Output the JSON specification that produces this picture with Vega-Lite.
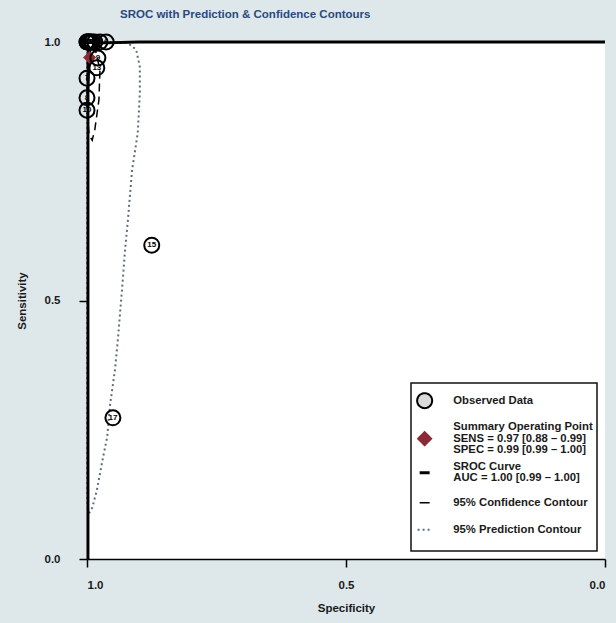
{
  "$schema": "https://vega.github.io/schema/vega-lite/v6.json",
  "autosize": {"type": "none"},
  "width": 518,
  "height": 517,
  "padding": {"left": 87, "top": 42, "right": 11, "bottom": 64},
  "background": "#dee8eb",
  "view": {"fill": "white", "stroke": null},
  "title": {
    "text": "SROC with Prediction & Confidence Contours",
    "anchor": "start",
    "frame": "group",
    "dx": 33,
    "offset": 10,
    "font": "Liberation Sans",
    "fontSize": 11.5,
    "fontWeight": "bold",
    "color": "#2a4a7c"
  },
  "config": {
    "axis": {
      "grid": false,
      "domainColor": "#000000",
      "domainWidth": 1.5,
      "tickColor": "#000000",
      "tickWidth": 1.5,
      "tickSize": 8,
      "labelFont": "Liberation Sans",
      "labelFontSize": 11.5,
      "labelFontWeight": "bold",
      "labelColor": "#1a1a1a",
      "titleFont": "Liberation Sans",
      "titleFontSize": 11.5,
      "titleFontWeight": "bold",
      "titleColor": "#1a1a1a"
    },
    "legend": {
      "labelFont": "Liberation Sans",
      "labelFontSize": 11.3,
      "labelFontWeight": "bold",
      "labelColor": "#1a1a1a",
      "labelLimit": 400
    }
  },
  "datasets": {
    "obs": [
      {"study": "1", "spec": 1.0, "sens": 1.0, "series": "Observed Data"},
      {"study": "2", "spec": 0.995, "sens": 1.0, "series": "Observed Data"},
      {"study": "3", "spec": 0.99, "sens": 1.0, "series": "Observed Data"},
      {"study": "4", "spec": 0.985, "sens": 1.0, "series": "Observed Data"},
      {"study": "5", "spec": 0.975, "sens": 1.0, "series": "Observed Data"},
      {"study": "6", "spec": 0.963, "sens": 1.0, "series": "Observed Data"},
      {"study": "7", "spec": 1.0, "sens": 0.93, "series": "Observed Data"},
      {"study": "8", "spec": 1.0, "sens": 0.892, "series": "Observed Data"},
      {"study": "9", "spec": 0.979, "sens": 0.969, "series": "Observed Data"},
      {"study": "10", "spec": 1.0, "sens": 0.868, "series": "Observed Data"},
      {"study": "11", "spec": 0.997, "sens": 1.0, "series": "Observed Data"},
      {"study": "12", "spec": 1.0, "sens": 1.0, "series": "Observed Data"},
      {"study": "13", "spec": 0.981, "sens": 0.95, "series": "Observed Data"},
      {"study": "14", "spec": 0.992, "sens": 1.0, "series": "Observed Data"},
      {"study": "15", "spec": 0.875, "sens": 0.607, "series": "Observed Data"},
      {"study": "16", "spec": 0.998, "sens": 1.0, "series": "Observed Data"},
      {"study": "17", "spec": 0.95, "sens": 0.273, "series": "Observed Data"}
    ],
    "summary": [
      {"spec": 0.995, "sens": 0.97, "series": "Summary Operating Point"}
    ],
    "sroc": [
      {"i": 1, "spec": 0.998, "sens": 0.0, "series": "SROC Curve"},
      {"i": 2, "spec": 0.998, "sens": 0.9, "series": "SROC Curve"},
      {"i": 3, "spec": 0.996, "sens": 0.98, "series": "SROC Curve"},
      {"i": 4, "spec": 0.985, "sens": 0.998, "series": "SROC Curve"},
      {"i": 5, "spec": 0.9, "sens": 1.0, "series": "SROC Curve"},
      {"i": 6, "spec": 0.0, "sens": 1.0, "series": "SROC Curve"}
    ],
    "ci": [
      {"i": 1, "spec": 0.994, "sens": 0.988, "series": "95% Confidence Contour"},
      {"i": 2, "spec": 0.983, "sens": 0.981, "series": "95% Confidence Contour"},
      {"i": 3, "spec": 0.975, "sens": 0.946, "series": "95% Confidence Contour"},
      {"i": 4, "spec": 0.977, "sens": 0.888, "series": "95% Confidence Contour"},
      {"i": 5, "spec": 0.985, "sens": 0.83, "series": "95% Confidence Contour"},
      {"i": 6, "spec": 0.99, "sens": 0.81, "series": "95% Confidence Contour"},
      {"i": 7, "spec": 0.996, "sens": 0.82, "series": "95% Confidence Contour"},
      {"i": 8, "spec": 1.0, "sens": 0.868, "series": "95% Confidence Contour"},
      {"i": 9, "spec": 1.0, "sens": 0.927, "series": "95% Confidence Contour"},
      {"i": 10, "spec": 0.999, "sens": 0.975, "series": "95% Confidence Contour"},
      {"i": 11, "spec": 0.994, "sens": 0.988, "series": "95% Confidence Contour"}
    ],
    "pi": [
      {"i": 1, "spec": 0.985, "sens": 1.0, "series": "95% Prediction Contour"},
      {"i": 2, "spec": 0.946, "sens": 1.0, "series": "95% Prediction Contour"},
      {"i": 3, "spec": 0.921, "sens": 0.998, "series": "95% Prediction Contour"},
      {"i": 4, "spec": 0.905, "sens": 0.985, "series": "95% Prediction Contour"},
      {"i": 5, "spec": 0.898, "sens": 0.952, "series": "95% Prediction Contour"},
      {"i": 6, "spec": 0.898, "sens": 0.901, "series": "95% Prediction Contour"},
      {"i": 7, "spec": 0.902, "sens": 0.824, "series": "95% Prediction Contour"},
      {"i": 8, "spec": 0.913, "sens": 0.752, "series": "95% Prediction Contour"},
      {"i": 9, "spec": 0.921, "sens": 0.656, "series": "95% Prediction Contour"},
      {"i": 10, "spec": 0.927, "sens": 0.592, "series": "95% Prediction Contour"},
      {"i": 11, "spec": 0.932, "sens": 0.526, "series": "95% Prediction Contour"},
      {"i": 12, "spec": 0.94, "sens": 0.429, "series": "95% Prediction Contour"},
      {"i": 13, "spec": 0.946, "sens": 0.366, "series": "95% Prediction Contour"},
      {"i": 14, "spec": 0.956, "sens": 0.294, "series": "95% Prediction Contour"},
      {"i": 15, "spec": 0.961, "sens": 0.236, "series": "95% Prediction Contour"},
      {"i": 16, "spec": 0.969, "sens": 0.197, "series": "95% Prediction Contour"},
      {"i": 17, "spec": 0.981, "sens": 0.133, "series": "95% Prediction Contour"},
      {"i": 18, "spec": 0.99, "sens": 0.099, "series": "95% Prediction Contour"},
      {"i": 19, "spec": 0.998, "sens": 0.085, "series": "95% Prediction Contour"},
      {"i": 20, "spec": 1.0, "sens": 0.12, "series": "95% Prediction Contour"},
      {"i": 21, "spec": 1.0, "sens": 1.0, "series": "95% Prediction Contour"},
      {"i": 22, "spec": 0.985, "sens": 1.0, "series": "95% Prediction Contour"}
    ]
  },
  "encoding": {
    "x": {
      "field": "spec", "type": "quantitative", "title": "Specificity",
      "scale": {"domain": [0, 1], "reverse": true, "nice": false, "zero": false},
      "axis": {"values": [0, 0.5, 1], "format": ".1f", "labelPadding": 12, "titlePadding": 12}
    },
    "y": {
      "field": "sens", "type": "quantitative", "title": "Sensitivity",
      "scale": {"domain": [0, 1], "nice": false},
      "axis": {"values": [0, 0.5, 1], "format": ".1f", "labelPadding": 19, "titlePadding": 17}
    }
  },
  "layer": [
    {
      "data": {"name": "pi"},
      "mark": {"type": "line", "strokeWidth": 2, "strokeDash": [2, 3]},
      "encoding": {
        "order": {"field": "i", "type": "quantitative"},
        "color": {
          "field": "series", "type": "nominal",
          "scale": {
            "domain": ["Observed Data", "Summary Operating Point", "SROC Curve", "95% Confidence Contour", "95% Prediction Contour"],
            "range": ["#000000", "#8b2a35", "#000000", "#000000", "#5f6e7c"]
          },
          "legend": {
            "title": "\u00a0",
            "titleFontSize": 6,
            "titlePadding": 2,
            "orient": "bottom-right",
            "offset": 8,
            "padding": 4,
            "fillColor": "white",
            "strokeColor": "#111111",
            "rowPadding": 4,
            "symbolOffset": 4,
            "labelOffset": 23,
            "labelExpr": "datum.value === 'Observed Data' ? ['', 'Observed Data', ''] : datum.value === 'Summary Operating Point' ? ['Summary Operating Point', 'SENS = 0.97 [0.88 – 0.99]', 'SPEC = 0.99 [0.99 – 1.00]'] : datum.value === 'SROC Curve' ? ['SROC Curve', 'AUC = 1.00 [0.99 – 1.00]'] : datum.value === '95% Confidence Contour' ? ['', '95% Confidence Contour'] : ['', '95% Prediction Contour', '']",
            "encode": {
              "legend": {"update": {"strokeWidth": {"value": 1.5}}},
              "labels": {"update": {
                "lineHeight": {"signal": "datum.value === 'Observed Data' ? 11 : datum.value === '95% Confidence Contour' ? 7.75 : datum.value === '95% Prediction Contour' ? 11.5 : 11.5"},
                "dy": {"signal": "datum.value === 'Observed Data' ? -11 : datum.value === 'Summary Operating Point' ? -11.5 : datum.value === 'SROC Curve' ? -5.75 : datum.value === '95% Confidence Contour' ? -7.75 : -11.5"}
              }},
              "symbols": {"update": {
                "shape": {"signal": "datum.value === 'Observed Data' ? 'circle' : datum.value === 'Summary Operating Point' ? 'diamond' : 'stroke'"},
                "size": {"signal": "datum.value === 'Observed Data' ? 225 : datum.value === 'Summary Operating Point' ? 170 : datum.value === '95% Prediction Contour' ? 200 : 100"},
                "fill": {"signal": "datum.value === 'Observed Data' ? '#dddddd' : datum.value === 'Summary Operating Point' ? '#8b2a35' : 'transparent'"},
                "fillOpacity": {"signal": "datum.value === 'Observed Data' ? 0.14 : 1"},
                "stroke": {"signal": "datum.value === 'Summary Operating Point' ? '#8b2a35' : datum.value === '95% Prediction Contour' ? '#5f6e7c' : '#000000'"},
                "strokeWidth": {"signal": "datum.value === 'SROC Curve' ? 3 : datum.value === '95% Confidence Contour' ? 1.5 : 2"},
                "strokeDash": {"signal": "datum.value === '95% Prediction Contour' ? [2, 3] : [1, 0]"},
                "opacity": {"value": 1}
              }}
            }
          }
        }
      }
    },
    {
      "data": {"name": "ci"},
      "mark": {"type": "line", "strokeWidth": 1.5, "strokeDash": [8, 5]},
      "encoding": {
        "order": {"field": "i", "type": "quantitative"},
        "color": {"field": "series", "type": "nominal"}
      }
    },
    {
      "data": {"name": "sroc"},
      "mark": {"type": "line", "strokeWidth": 2.8},
      "encoding": {
        "order": {"field": "i", "type": "quantitative"},
        "color": {"field": "series", "type": "nominal"}
      }
    },
    {
      "data": {"name": "summary"},
      "mark": {"type": "point", "shape": "diamond", "filled": true, "size": 170, "opacity": 1},
      "encoding": {
        "color": {"field": "series", "type": "nominal"}
      }
    },
    {
      "data": {"name": "obs"},
      "mark": {"type": "point", "shape": "circle", "filled": false, "size": 225, "strokeWidth": 2, "opacity": 1},
      "encoding": {
        "color": {"field": "series", "type": "nominal"}
      }
    },
    {
      "data": {"name": "obs"},
      "mark": {"type": "text", "font": "Liberation Sans", "fontSize": 8, "fontWeight": "bold", "color": "#000000", "align": "center", "baseline": "middle"},
      "encoding": {
        "text": {"field": "study", "type": "nominal"}
      }
    }
  ]
}
